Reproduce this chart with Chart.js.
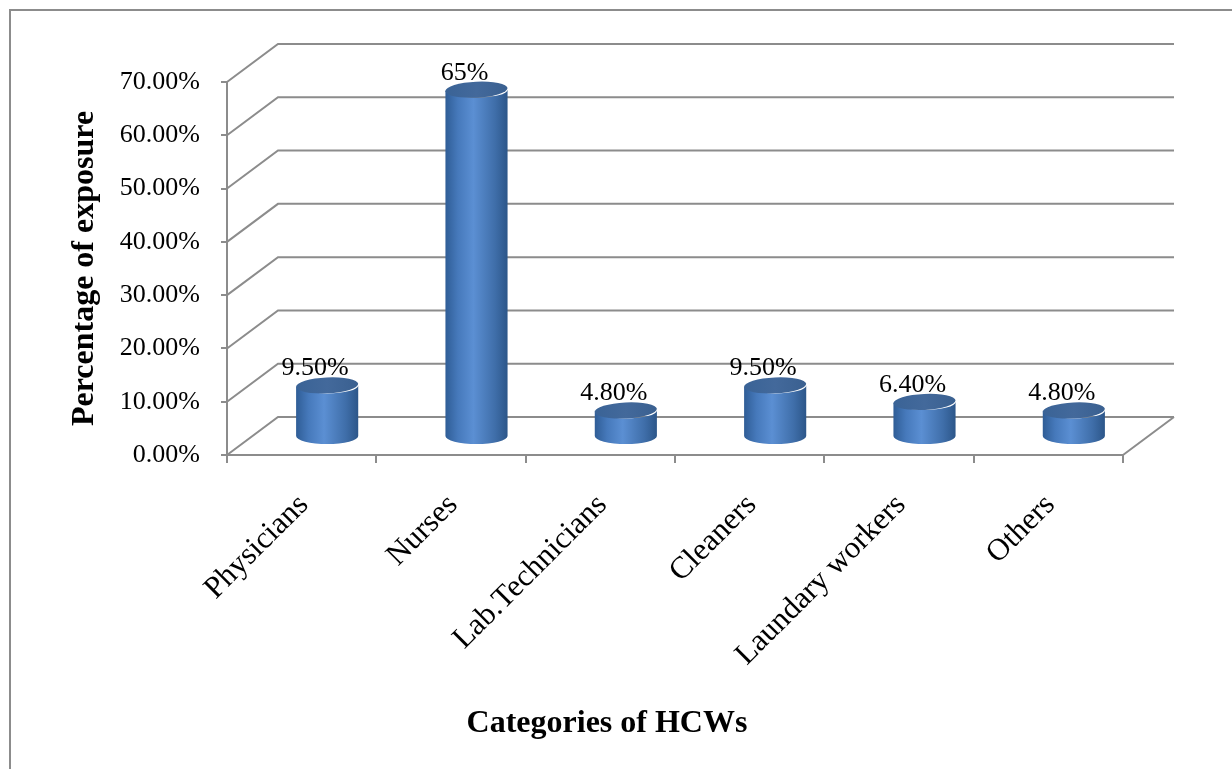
<!DOCTYPE html>
<html>
<head>
<meta charset="utf-8">
<title>Percentage of exposure by HCW category</title>
<script src="https://cdn.jsdelivr.net/npm/chart.js@4.4.1/dist/chart.umd.min.js"></script>
<style>
  html, body { margin: 0; padding: 0; background: #fff; }
  #wrap { width: 1232px; height: 769px; }
</style>
</head>
<body>
<div id="wrap"><canvas id="chart" width="1232" height="769"></canvas></div>
<script>
// data
const categories = ['Physicians', 'Nurses', 'Lab.Technicians', 'Cleaners', 'Laundary workers', 'Others'];
const exposure = [9.5, 65, 4.8, 9.5, 6.4, 4.8];
const valueLabels = ['9.50%', '65%', '4.80%', '9.50%', '6.40%', '4.80%'];
const yTicks = [0, 10, 20, 30, 40, 50, 60, 70];
const xTitle = 'Categories of HCWs';

const GRID = '#8c8c8c';
const SERIF = '"Liberation Serif", "Times New Roman", serif';
const DEPTH_X = 51, DEPTH_Y = -38;   // 3D wall offset

// outer frame
const framePlugin = {
  id: 'frame',
  beforeDraw(chart) {
    const ctx = chart.ctx;
    ctx.save();
    ctx.fillStyle = '#fff';
    ctx.fillRect(0, 0, chart.width, chart.height);
    ctx.strokeStyle = GRID;
    ctx.lineWidth = 2;
    ctx.strokeRect(10, 10, chart.width + 20, chart.height + 20);
    ctx.restore();
  },
  afterDraw(chart) {
    // x axis title sits left of the plot centre in the original
    const ctx = chart.ctx;
    ctx.save();
    ctx.fillStyle = '#000';
    ctx.font = 'bold 32px ' + SERIF;
    ctx.textAlign = 'center';
    ctx.textBaseline = 'middle';
    ctx.fillText(xTitle, 607, 724);
    ctx.restore();
  }
};

// back wall, side wall and floor lines
const wallPlugin = {
  id: 'walls',
  beforeDatasetsDraw(chart) {
    const { ctx, chartArea, scales: { y } } = chart;
    ctx.save();
    ctx.strokeStyle = GRID;
    ctx.lineWidth = 2;
    ctx.beginPath();
    yTicks.forEach(v => {
      const py = y.getPixelForValue(v);
      ctx.moveTo(chartArea.left, py);
      ctx.lineTo(chartArea.left + DEPTH_X, py + DEPTH_Y);
      ctx.lineTo(chartArea.right + DEPTH_X, py + DEPTH_Y);
    });
    // right edge of floor
    const p0 = y.getPixelForValue(0);
    ctx.moveTo(chartArea.right, p0);
    ctx.lineTo(chartArea.right + DEPTH_X, p0 + DEPTH_Y);
    ctx.stroke();
    ctx.restore();
  }
};

function drawCylinder(ctx, cx, yTop, yBase, rx, ry) {
  const side = ctx.createLinearGradient(cx - rx, 0, cx + rx, 0);
  side.addColorStop(0, '#2f5d96');
  side.addColorStop(0.2, '#4679bb');
  side.addColorStop(0.45, '#5b8fd3');
  side.addColorStop(0.8, '#3f6ea9');
  side.addColorStop(1, '#2c5689');
  ctx.beginPath();
  ctx.moveTo(cx - rx, yTop);
  ctx.lineTo(cx - rx, yBase);
  ctx.ellipse(cx, yBase, rx, ry, 0, Math.PI, 0, true);
  ctx.lineTo(cx + rx, yTop);
  ctx.ellipse(cx, yTop, rx, ry, 0, 0, Math.PI, false);
  ctx.closePath();
  ctx.fillStyle = side;
  ctx.fill();

  const top = ctx.createLinearGradient(cx - rx, yTop, cx + rx, yTop);
  top.addColorStop(0, '#3a6396');
  top.addColorStop(0.5, '#43699b');
  top.addColorStop(1, '#3a6090');
  ctx.beginPath();
  ctx.ellipse(cx, yTop, rx, ry, -0.05, 0, Math.PI * 2);
  ctx.fillStyle = top;
  ctx.fill();
}

// cylinders and value labels, placed with the chart's own scales
const cylinderPlugin = {
  id: 'cylinders',
  afterDatasetsDraw(chart) {
    const { ctx, scales: { y } } = chart;
    const meta = chart.getDatasetMeta(0);
    const base = y.getPixelForValue(0) + DEPTH_Y / 2;
    ctx.save();
    meta.data.forEach((bar, i) => {
      const cx = bar.x + DEPTH_X / 2;
      const top = bar.y + DEPTH_Y / 2;
      const rx = bar.width / 2, ry = 8;
      drawCylinder(ctx, cx, top, base, rx, ry);
      ctx.fillStyle = '#000';
      ctx.font = '26px ' + SERIF;
      ctx.textAlign = 'center';
      ctx.textBaseline = 'alphabetic';
      ctx.fillText(valueLabels[i], cx - 12, top - ry - 2);
    });
    ctx.restore();
  }
};

new Chart(document.getElementById('chart'), {
  type: 'bar',
  data: {
    labels: categories,
    datasets: [{
      label: 'Percentage of exposure',
      data: exposure,
      backgroundColor: 'rgba(0,0,0,0)',
      borderWidth: 0,
      categoryPercentage: 1,
      barPercentage: 0.416
    }]
  },
  options: {
    responsive: false,
    animation: false,
    layout: { padding: { left: 54, top: 82, right: 109, bottom: 0 } },
    plugins: { legend: { display: false }, tooltip: { enabled: false } },
    scales: {
      x: {
        afterFit: s => { s.height = 314; },
        grid: { offset: true, drawOnChartArea: false, color: GRID, lineWidth: 2, tickLength: 8 },
        border: { color: GRID, width: 2 },
        ticks: {
          minRotation: 45, maxRotation: 45, padding: 24, labelOffset: 2,
          color: '#000', font: { family: SERIF, size: 31 }
        },
        title: { display: false }
      },
      y: {
        min: 0, max: 70,
        afterFit: s => { s.width = 173; },
        afterBuildTicks: s => { s.ticks = yTicks.map(v => ({ value: v })); },
        grid: { drawOnChartArea: false, color: GRID, lineWidth: 2, tickLength: 6 },
        border: { color: GRID, width: 2 },
        ticks: {
          padding: 21, color: '#000', font: { family: SERIF, size: 26 },
          callback: v => v.toFixed(2) + '%'
        },
        title: {
          display: true, text: 'Percentage of exposure', color: '#000',
          font: { family: SERIF, size: 32, weight: 'bold' }, padding: { top: 12, bottom: 0 }
        }
      }
    }
  },
  plugins: [framePlugin, wallPlugin, cylinderPlugin]
});
</script>
</body>
</html>
